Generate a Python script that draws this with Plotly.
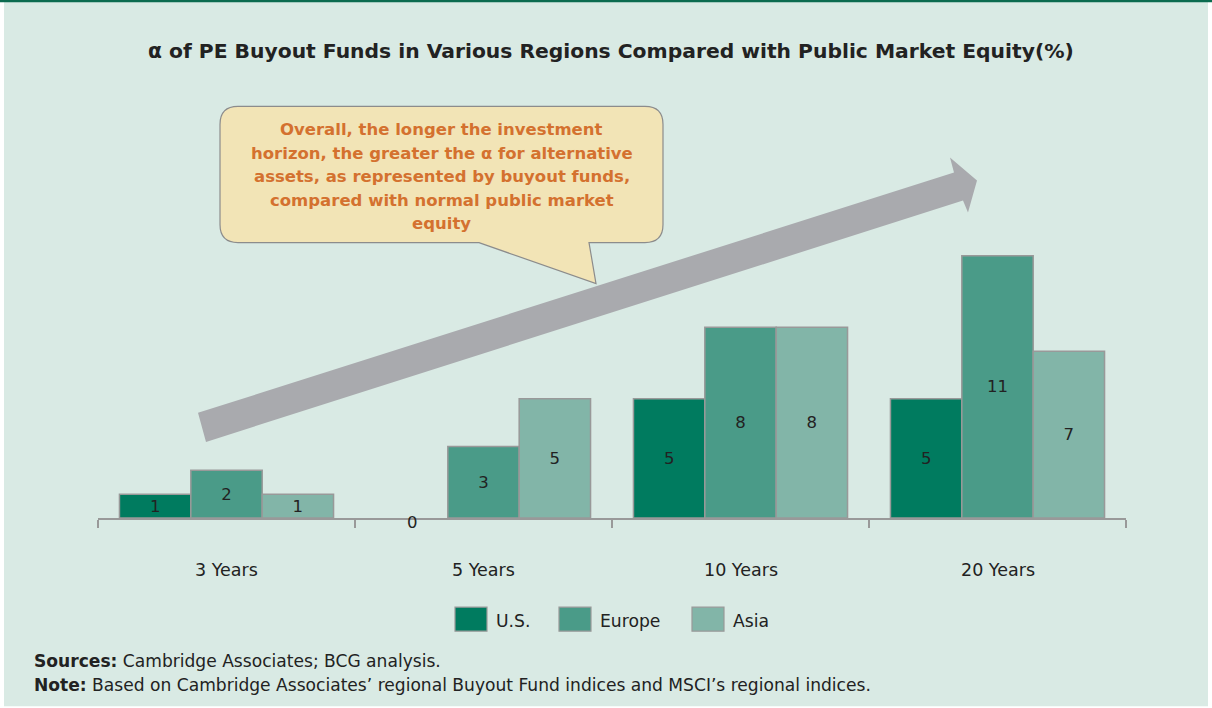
import plotly.graph_objects as go

# ---------------- data ----------------
categories = ["3 Years", "5 Years", "10 Years", "20 Years"]
series_names = ["U.S.", "Europe", "Asia"]
us_values = [1, 0, 5, 5]
europe_values = [2, 3, 8, 11]
asia_values = [1, 5, 8, 7]
series_values = [us_values, europe_values, asia_values]
series_colors = ["#007B5F", "#4A9B88", "#82B5A8"]

title_text = "α of PE Buyout Funds in Various Regions Compared with Public Market Equity(%)"
callout_lines = [
    "Overall, the longer the investment",
    "horizon, the greater the α for alternative",
    "assets, as represented by buyout funds,",
    "compared with normal public market",
    "equity",
]
sources_text = "<b>Sources:</b> Cambridge Associates; BCG analysis."
note_text = "<b>Note:</b> Based on Cambridge Associates’ regional Buyout Fund indices and MSCI’s regional indices."

# ---------------- layout geometry (pixels) ----------------
W, H = 1212, 708
PL, PR = 98, 1126          # plot area x
PT, PB = 232.4, 518        # plot area y
Y_MAX = 12
BARGAP = 0.167

FONT = "DejaVu Sans"
BG = "#D9EAE4"
TXT = "#222222"
OUTLINE = "#999999"


def px(x):
    return (x - PL) / (PR - PL)


def py(y):
    return (PB - y) / (PB - PT)


fig = go.Figure()
for name, vals, col in zip(series_names, series_values, series_colors):
    fig.add_trace(go.Bar(
        x=categories, y=vals, name=name,
        marker=dict(color=col,
                    line=dict(color=OUTLINE,
                              width=[1.5 if v != 0 else 0 for v in vals])),
        text=[str(v) if v != 0 else "" for v in vals],
        textposition="inside", insidetextanchor="middle", textangle=0,
        textfont=dict(family=FONT, size=16.5, color=TXT),
        constraintext="none",
        cliponaxis=False,
        showlegend=False,
        hoverinfo="skip",
    ))

shapes = []
annotations = []

# panel background with white side margins and green top rule
shapes.append(dict(type="rect", xref="paper", yref="paper",
                   x0=px(4), x1=px(1208), y0=py(0), y1=py(706),
                   fillcolor=BG, line=dict(width=0), layer="below"))
shapes.append(dict(type="rect", xref="paper", yref="paper",
                   x0=px(0), x1=px(1212), y0=py(0), y1=py(3),
                   fillcolor="#0B6B4F", line=dict(width=0), layer="below"))

# big grey trend arrow
arrow_pts = [(198, 413), (954, 173), (950, 158), (977, 181), (968, 213),
             (963, 201), (206, 442)]
path = "M " + " L ".join(f"{px(x):.5f},{py(y):.5f}" for x, y in arrow_pts) + " Z"
shapes.append(dict(type="path", xref="paper", yref="paper", path=path,
                   fillcolor="#A9AAAE", line=dict(width=0), layer="above"))

# callout bubble
bx0, bx1, by0, by1, r = 220, 663, 107, 243, 18
pts = [
    ("M", (bx0 + r, by0)), ("L", (bx1 - r, by0)), ("Q", (bx1, by0), (bx1, by0 + r)),
    ("L", (bx1, by1 - r)), ("Q", (bx1, by1), (bx1 - r, by1)),
    ("L", (589, by1)), ("L", (596, 284)), ("L", (479, by1)),
    ("L", (bx0 + r, by1)), ("Q", (bx0, by1), (bx0, by1 - r)),
    ("L", (bx0, by0 + r)), ("Q", (bx0, by0), (bx0 + r, by0)),
]
segs = []
for p in pts:
    cmd = p[0]
    coords = " ".join(f"{px(x):.5f},{py(y):.5f}" for x, y in p[1:])
    segs.append(f"{cmd} {coords}")
shapes.append(dict(type="path", xref="paper", yref="paper",
                   path=" ".join(segs) + " Z",
                   fillcolor="#F2E4B6", line=dict(color="#8C8C8C", width=1.2),
                   layer="above"))

line_y0, line_step = 130, 23.6
for i, ln in enumerate(callout_lines):
    annotations.append(dict(
        xref="paper", yref="paper", x=px(441.5), y=py(line_y0 + i * line_step),
        text=f"<b>{ln}</b>",
        showarrow=False, align="center", xanchor="center", yanchor="middle",
        font=dict(family=FONT, size=16.5, color="#D4712F"),
    ))

# title
annotations.append(dict(
    xref="paper", yref="paper", x=px(611), y=py(52),
    text=f"<b>{title_text}</b>", showarrow=False,
    xanchor="center", yanchor="middle",
    font=dict(family=FONT, size=20.3, color=TXT),
))

# category labels
for c in categories:
    annotations.append(dict(
        xref="x", yref="paper", x=c, y=py(570), text=c, showarrow=False,
        xanchor="center", yanchor="middle",
        font=dict(family=FONT, size=17.5, color=TXT),
    ))

# labels for zero-height bars
cat_px = (PR - PL) / len(categories)
bar_px = cat_px * (1 - BARGAP) / len(series_names)
for si, vals in enumerate(series_values):
    for c, v in zip(categories, vals):
        if v == 0:
            annotations.append(dict(
                xref="x", yref="y", x=c, y=0, text=str(v), showarrow=False,
                xshift=(si - (len(series_names) - 1) / 2) * bar_px, yshift=-4,
                xanchor="center", yanchor="middle",
                font=dict(family=FONT, size=16.5, color=TXT),
            ))

# custom legend
legend_x = [455, 559, 692]
for lx, name, col in zip(legend_x, series_names, series_colors):
    shapes.append(dict(type="rect", xref="paper", yref="paper",
                       x0=px(lx), x1=px(lx + 32), y0=py(607), y1=py(631),
                       fillcolor=col, line=dict(color=OUTLINE, width=1.2)))
    annotations.append(dict(
        xref="paper", yref="paper", x=px(lx + 39), y=py(621), text=name,
        showarrow=False, xanchor="left", yanchor="middle",
        font=dict(family=FONT, size=17.2, color=TXT),
    ))

# footnotes
for txt, yy in [(sources_text, 661), (note_text, 685)]:
    annotations.append(dict(
        xref="paper", yref="paper", x=px(32), y=py(yy), text=txt,
        showarrow=False, xanchor="left", yanchor="middle",
        font=dict(family=FONT, size=17.1, color=TXT),
    ))

fig.update_layout(
    width=W, height=H,
    margin=dict(l=PL, r=W - PR, t=PT, b=H - PB, pad=0),
    paper_bgcolor="white", plot_bgcolor="rgba(0,0,0,0)",
    barmode="group", bargap=BARGAP, bargroupgap=0,
    shapes=shapes, annotations=annotations,
    showlegend=False,
    xaxis=dict(type="category", showgrid=False, zeroline=False,
               showline=True, linecolor=OUTLINE, linewidth=1.5,
               ticks="outside", tickson="boundaries", ticklen=8,
               tickcolor=OUTLINE, tickwidth=1.5, showticklabels=False,
               fixedrange=True),
    yaxis=dict(range=[0, Y_MAX], visible=False, fixedrange=True),
    font=dict(family=FONT, color=TXT),
)

fig.write_html("out.html",
               config={"displayModeBar": False},
               post_script="document.body.style.margin='0';document.body.style.overflow='hidden';")
